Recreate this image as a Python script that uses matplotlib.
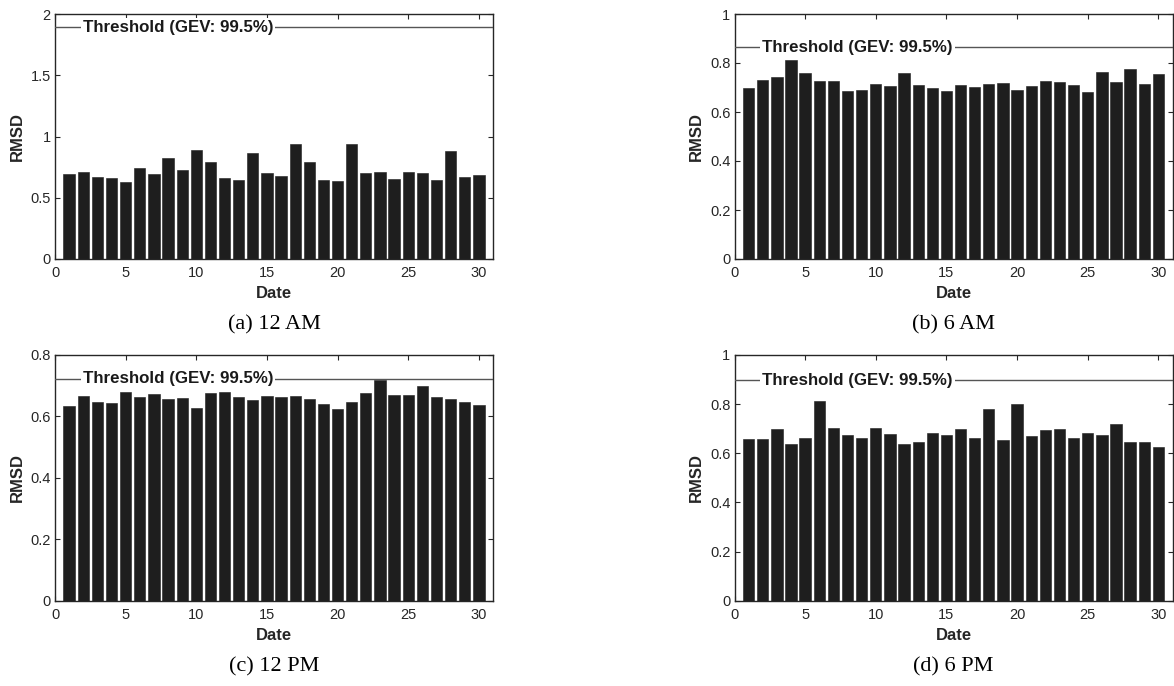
import matplotlib
matplotlib.use("Agg")
import matplotlib.pyplot as plt
from matplotlib.ticker import FuncFormatter
import numpy as np

plt.rcParams['font.family'] = ['Liberation Sans', 'DejaVu Sans']

dates = list(range(1, 31))

rmsd_12am = [0.694, 0.707, 0.667, 0.658, 0.631, 0.743, 0.694, 0.827, 0.724, 0.887,
             0.789, 0.658, 0.648, 0.868, 0.699, 0.680, 0.939, 0.789, 0.648, 0.637,
             0.939, 0.699, 0.707, 0.650, 0.707, 0.702, 0.642, 0.882, 0.667, 0.683]
rmsd_6am = [0.697, 0.732, 0.744, 0.812, 0.761, 0.725, 0.725, 0.687, 0.690, 0.714,
            0.705, 0.758, 0.710, 0.697, 0.684, 0.712, 0.702, 0.714, 0.717, 0.691,
            0.706, 0.725, 0.722, 0.712, 0.682, 0.762, 0.724, 0.777, 0.714, 0.756]
rmsd_12pm = [0.633, 0.667, 0.646, 0.644, 0.680, 0.662, 0.672, 0.658, 0.659, 0.626,
             0.675, 0.680, 0.663, 0.654, 0.665, 0.663, 0.666, 0.656, 0.640, 0.623,
             0.647, 0.676, 0.717, 0.670, 0.670, 0.700, 0.662, 0.656, 0.646, 0.638]
rmsd_6pm = [0.657, 0.658, 0.699, 0.636, 0.661, 0.814, 0.703, 0.673, 0.662, 0.703,
            0.678, 0.636, 0.647, 0.683, 0.673, 0.699, 0.662, 0.780, 0.653, 0.799,
            0.670, 0.696, 0.699, 0.661, 0.681, 0.673, 0.719, 0.647, 0.647, 0.627]

thresholds = [1.89, 0.864, 0.722, 0.898]
y_max = [2.0, 1.0, 0.8, 1.0]
y_steps = [0.5, 0.2, 0.2, 0.2]
captions = ["(a) 12 AM", "(b) 6 AM", "(c) 12 PM", "(d) 6 PM"]
series = [rmsd_12am, rmsd_6am, rmsd_12pm, rmsd_6pm]
x_ticks = [0, 5, 10, 15, 20, 25, 30]
threshold_label = "Threshold (GEV: 99.5%)"

W, H = 1174, 686
fig = plt.figure(figsize=(W / 100, H / 100), dpi=100)

# pixel boxes: left, right, top, bottom
boxes = [(55, 493, 14, 259), (734.5, 1172.5, 14, 259),
         (55, 493, 355, 600.7), (734.5, 1172.5, 355, 600.7)]

spine_col = '#262626'
bar_col = '#1e1e1e'

def fmt(v, pos):
    return ('%g' % round(v, 6))

for i in range(4):
    l, r, t, b = boxes[i]
    ax = fig.add_axes([l / W, (H - b) / H, (r - l) / W, (b - t) / H])
    ax.bar(dates, series[i], width=0.8, color=bar_col, edgecolor=bar_col, linewidth=0.4, zorder=2)
    ax.set_xlim(0, 31)
    ax.set_ylim(0, y_max[i])
    ax.set_xticks(x_ticks)
    ax.set_yticks(np.arange(0, y_max[i] + 1e-9, y_steps[i]))
    ax.yaxis.set_major_formatter(FuncFormatter(fmt))
    ax.tick_params(direction='in', length=3.5, width=0.8, colors=spine_col,
                   top=True, right=True, labelsize=10.5, labelcolor=spine_col)
    ax.tick_params(axis='x', pad=5)
    ax.tick_params(axis='y', pad=3)
    for s in ax.spines.values():
        s.set_color(spine_col)
        s.set_linewidth(1.0)
    ax.axhline(thresholds[i], color='#555555', linewidth=1.0, zorder=3)
    ax.text(1.95, thresholds[i], threshold_label, fontsize=12.2, fontweight='bold',
            color='#1a1a1a', ha='left', va='center', zorder=4,
            bbox=dict(facecolor='white', edgecolor='none', pad=1.5))
    ax.set_xlabel('Date', fontsize=12, fontweight='bold', color=spine_col)
    ax.set_ylabel('RMSD', fontsize=12, fontweight='bold', color=spine_col)
    ax.xaxis.label.set_va('center')
    ax.yaxis.label.set_va('center')
    ax.xaxis.set_label_coords(0.5, -35 / (b - t))
    ax.yaxis.set_label_coords(-38 / (r - l), 0.5)
    ax.text(0.5, -66 / (b - t), captions[i], transform=ax.transAxes, ha='center', va='center',
            fontsize=16, family=['Liberation Serif', 'DejaVu Serif'], color='black')

fig.savefig('out.png', dpi=100, facecolor='white')
